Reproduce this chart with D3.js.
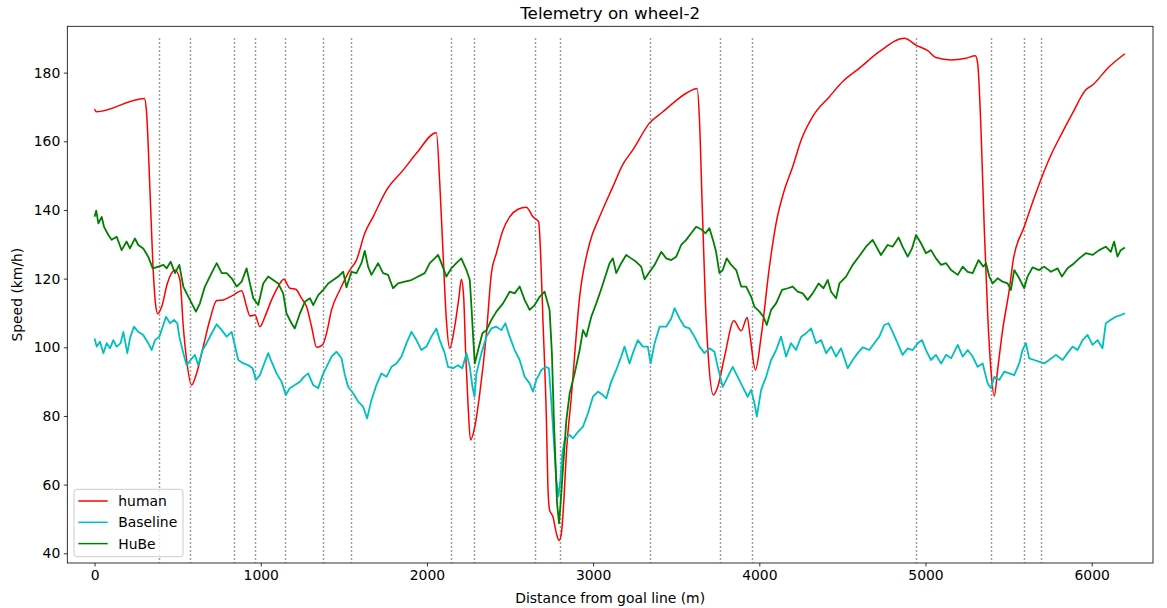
<!DOCTYPE html>
<html><head><meta charset="utf-8">
<script src="https://cdn.jsdelivr.net/npm/d3@7"></script>
<style>body{margin:0;background:#fff}svg{display:block}text{font-family:"DejaVu Sans",sans-serif;fill:#000}</style>
</head><body><div id="chart"></div>
<script>
const xTicks = [0,1000,2000,3000,4000,5000,6000];
const yTicks = [40,60,80,100,120,140,160,180];
const seriesNames = ["human","Baseline","HuBe"];
const seriesColors = ["#ff0000","#00bfbf","#008000"];
const markerDist = [386,574,837,965,1145,1374,1546,2142,2286,2648,2799,3344,3761,3957,4943,5394,5594,5696];

const human = [[0,169.4],[10,168.6],[300,172.5],[312,169],[334,145],[350,125.4],[366,113],[380,109.8],[404,111.8],[438,118.6],[484,122.5],[514,119.6],[534,106],[554,96.3],[584,89],[614,92.4],[654,100.2],[694,108],[735,113.6],[774,113.8],[835,115.2],[885,116.5],[915,111.8],[935,109.1],[965,109.4],[995,106],[1025,108.9],[1065,113.8],[1105,117.7],[1139,119.8],[1175,117.2],[1211,116.9],[1245,114.3],[1276,111.8],[1306,106],[1336,100],[1372,100.7],[1396,104.1],[1426,110.9],[1476,116.7],[1536,122.5],[1576,125.4],[1626,133.2],[1676,138],[1757,145.8],[1857,151.6],[1937,156.5],[2057,162.5],[2077,148],[2097,127.4],[2117,108],[2137,99.7],[2167,106],[2193,114.7],[2207,119.8],[2221,114.7],[2233,98.3],[2247,83.7],[2262,73],[2288,76.9],[2318,86.6],[2358,104.1],[2388,121.6],[2418,127.4],[2458,134.2],[2498,138],[2548,140.2],[2598,140.8],[2638,138],[2672,136.6],[2684,127.4],[2698,108],[2719,78.8],[2728,59.4],[2738,52.6],[2758,50.7],[2779,45.8],[2795,43.7],[2809,45.8],[2823,54.6],[2839,69.1],[2869,85.6],[2919,114.7],[2979,130.3],[3039,138],[3119,146.8],[3179,153.3],[3239,157.5],[3339,165.3],[3420,168.6],[3490,171.5],[3560,174],[3626,175.4],[3640,166.2],[3656,141.9],[3676,112.8],[3696,95.3],[3724,86.1],[3750,88.5],[3791,97.3],[3847,107.7],[3891,104.8],[3927,108.7],[3945,103.1],[3977,93.4],[4011,103.1],[4061,123.5],[4101,136.1],[4151,145.8],[4201,152.6],[4252,160.4],[4321,167.2],[4422,173],[4502,177.4],[4602,181.3],[4722,186.1],[4873,190],[4943,188],[5013,186.4],[5063,184.4],[5154,183.7],[5244,184.2],[5300,184.9],[5314,182.7],[5334,163.3],[5354,134.2],[5374,109.9],[5394,93.4],[5414,85.8],[5434,93.4],[5464,105],[5504,116.7],[5528,125.4],[5594,135.1],[5664,144.9],[5755,156],[5815,161.8],[5885,168.2],[5965,175],[6005,176.4],[6105,181.7],[6200,185.5]];

const baseline = [[0,102.6],[13,100.2],[33,101.6],[53,98.3],[73,101.2],[93,99.7],[113,102.1],[133,100.2],[157,101.2],[173,104.5],[197,98.3],[213,102.6],[237,106],[263,104.5],[293,103.6],[323,101.2],[344,99.2],[364,102.1],[390,103.1],[410,106],[430,108.9],[454,107],[478,108],[498,107],[510,103.1],[534,98.3],[554,94.8],[578,96.3],[604,97.8],[624,94.8],[650,99.2],[674,101.2],[705,104.1],[735,106.7],[765,105],[795,103.1],[825,104.5],[839,101.6],[865,96.3],[895,95.3],[925,94.8],[951,93.9],[971,90.5],[995,91.9],[1025,95.8],[1045,98.3],[1065,95.8],[1095,92.4],[1125,90],[1151,86.1],[1175,88.1],[1205,89],[1236,90],[1260,91.4],[1285,92.4],[1316,89],[1346,88.1],[1372,91.9],[1396,94.3],[1426,97.3],[1456,98.7],[1486,96.8],[1506,92],[1526,88.5],[1556,86.6],[1586,84.2],[1616,82.7],[1640,79.3],[1666,84.6],[1696,89],[1726,92.4],[1757,91.4],[1787,94.3],[1817,95.3],[1847,97.3],[1877,101.2],[1907,104.5],[1937,102.1],[1967,99.2],[1997,100.2],[2027,103.1],[2057,105.5],[2077,102.1],[2107,98.3],[2127,94.3],[2157,93.9],[2187,94.8],[2213,93.9],[2238,98.3],[2258,94.3],[2274,88.5],[2286,85.6],[2298,92.4],[2328,98.3],[2358,103.1],[2388,105.5],[2418,106],[2448,105],[2472,107],[2498,103.1],[2528,99.2],[2558,96.3],[2588,91.4],[2618,89.5],[2638,87.1],[2658,90.5],[2689,93.4],[2714,94.3],[2734,93.9],[2749,83.7],[2762,74],[2779,61.3],[2791,56.5],[2803,61.3],[2815,69.1],[2829,73],[2859,74.5],[2879,73.5],[2909,75.4],[2939,76.9],[2969,80.8],[2999,85.6],[3029,87.1],[3059,86.1],[3079,85.1],[3109,90],[3139,93.4],[3169,97.3],[3189,100.2],[3219,95.3],[3239,98.3],[3269,102.1],[3299,100.2],[3329,100.2],[3346,95.3],[3370,101.2],[3400,106],[3440,106],[3470,108.4],[3490,111.4],[3520,108.4],[3550,106],[3580,105.5],[3610,103.1],[3640,100.2],[3670,98.3],[3700,99.7],[3730,98.7],[3750,94.3],[3780,88.5],[3810,91.4],[3840,94.3],[3870,91.4],[3900,88.5],[3930,85.6],[3951,87.6],[3971,83.7],[3985,79.8],[4011,87.6],[4041,91.4],[4071,96.3],[4101,99.2],[4131,103.1],[4161,97.3],[4191,101.2],[4221,99.2],[4252,103.1],[4282,104.1],[4312,105.5],[4342,101.2],[4372,102.1],[4402,98.3],[4432,100.2],[4462,97.3],[4492,99.7],[4532,93.9],[4562,96.3],[4592,98.3],[4622,100],[4662,99.2],[4692,101.2],[4722,103.1],[4752,106.5],[4778,107],[4802,104.5],[4832,101.2],[4862,97.8],[4893,99.7],[4923,99.2],[4953,101.2],[4979,102.1],[5003,99.2],[5033,96.3],[5063,97.8],[5094,95.3],[5124,97.8],[5154,96.8],[5194,100.7],[5224,97.3],[5254,99.2],[5284,97.3],[5314,94.3],[5344,95.3],[5374,89.5],[5394,88.1],[5414,91.4],[5444,90.5],[5474,92.9],[5504,92.4],[5534,91.9],[5564,95.3],[5584,99.2],[5604,101.2],[5624,96.8],[5654,96.3],[5684,95.8],[5714,95.3],[5744,96.3],[5785,97.8],[5825,96.3],[5855,98.3],[5885,100.2],[5915,99.2],[5945,102.1],[5975,103.6],[6005,100.7],[6035,102.1],[6065,99.7],[6085,107],[6115,108],[6145,108.9],[6175,109.4],[6200,109.9]];

const hube = [[0,138],[10,139.8],[23,136.1],[43,138],[57,135.1],[83,132.7],[103,131.3],[133,132.2],[163,128.3],[193,130.8],[213,128.8],[243,131.7],[263,129.8],[293,128.8],[323,126.4],[350,123],[384,123.5],[414,124],[434,123],[458,124.9],[484,121.6],[510,124],[534,117.7],[574,113.8],[610,110.4],[634,112.8],[664,117.7],[704,121.6],[735,124.5],[765,121.6],[795,121.6],[825,120.1],[855,117.7],[885,119.1],[915,123],[935,118.6],[955,114.3],[985,112.3],[1015,118.6],[1045,120.6],[1075,119.6],[1105,118.6],[1135,115.7],[1155,109.9],[1185,107],[1205,105.5],[1236,109.9],[1266,113.3],[1296,114.3],[1316,112.3],[1346,115.2],[1376,116.7],[1406,118.6],[1436,119.6],[1466,120.6],[1496,122],[1516,117.5],[1546,122],[1576,121.6],[1606,124.5],[1626,128.1],[1646,123.5],[1666,121.1],[1706,124.5],[1736,121.6],[1766,121.1],[1796,117.2],[1826,118.6],[1867,119.1],[1907,119.6],[1947,120.6],[1987,121.6],[2017,124.5],[2047,125.9],[2067,126.9],[2087,124.5],[2117,120.6],[2147,123],[2177,124.5],[2207,125.9],[2238,122.5],[2258,119.6],[2268,111.8],[2278,103.1],[2288,95.3],[2308,99.2],[2334,104.1],[2358,105],[2388,108],[2418,110.4],[2458,112.8],[2498,116.2],[2528,115.7],[2558,117.7],[2588,113.8],[2618,110.9],[2648,112.3],[2678,114.7],[2708,116.2],[2738,110.9],[2752,98.3],[2764,78.8],[2775,64.3],[2783,54.6],[2795,48.7],[2803,53.6],[2818,64.3],[2839,78.8],[2859,86.6],[2889,92.4],[2919,99.2],[2939,105],[2959,103.1],[2989,108.9],[3019,112.8],[3049,117],[3079,121.5],[3099,124.5],[3119,125.9],[3139,121.6],[3169,124.5],[3199,126.9],[3229,125.9],[3259,124.9],[3289,123.5],[3310,119.8],[3340,122],[3370,124],[3410,127.8],[3440,125.9],[3470,125.4],[3500,126.4],[3530,129.8],[3560,131.3],[3590,133.2],[3620,135.1],[3650,134.4],[3676,133.2],[3700,134.7],[3724,130.8],[3740,127.8],[3760,121.6],[3780,122.5],[3804,125.9],[3831,124],[3861,122.5],[3891,117.7],[3921,117.7],[3951,114.7],[3971,111.8],[4001,110.4],[4025,108.9],[4045,106.5],[4071,110.9],[4101,112.8],[4137,116.7],[4171,117.2],[4201,117.7],[4231,116.2],[4261,115.7],[4291,113.8],[4321,115.7],[4357,118.6],[4386,117.2],[4412,119.6],[4432,116.2],[4462,114.3],[4482,118.6],[4522,120.6],[4562,124],[4602,126.6],[4642,129.3],[4682,131.3],[4732,126.9],[4772,129.8],[4802,129.3],[4838,132],[4862,129.3],[4893,126.4],[4919,128.8],[4943,132.7],[4973,130.3],[5003,127.4],[5033,128.3],[5063,125.9],[5094,124],[5124,124.5],[5154,122.5],[5194,121.1],[5224,123.5],[5254,122],[5284,121.6],[5319,125.4],[5348,123.5],[5364,124.5],[5384,120.6],[5404,118.6],[5434,120.1],[5464,119.1],[5494,118.6],[5514,116.7],[5534,122.5],[5564,120.1],[5594,117.2],[5614,120.6],[5644,123.3],[5684,122.5],[5714,123.5],[5755,122],[5795,123],[5821,120.6],[5855,123],[5895,124.5],[5925,125.9],[5965,127.4],[6005,126.9],[6045,128.3],[6085,129.3],[6115,127.8],[6135,130.8],[6155,126.4],[6175,128.3],[6200,129.1]];

const W = 1167, H = 608;
const plot = {left: 67.3, right: 1153, top: 26.3, bottom: 563};
const svg = d3.select("#chart").append("svg").attr("width", W).attr("height", H);
const x = d3.scaleLinear().domain([-164, 6369]).range([plot.left, plot.right]);
const y = d3.scaleLinear().domain([37.17, 193.5]).range([plot.bottom, plot.top]);

// marker lines (snapped to pixel grid like matplotlib)
svg.append("g").selectAll("line").data(markerDist).join("line")
  .attr("x1", d => Math.round(x(d)) + 0.5).attr("x2", d => Math.round(x(d)) + 0.5)
  .attr("y1", y(190)).attr("y2", plot.bottom)
  .attr("stroke", "#808080").attr("stroke-width", 1.5)
  .attr("stroke-dasharray", "1.5,2.5");

const line = d3.line().x(d => x(d[0])).y(d => y(d[1]));
const lineSmooth = d3.line().x(d => x(d[0])).y(d => y(d[1])).curve(d3.curveMonotoneX);
const g = svg.append("g").attr("fill", "none").attr("stroke-linejoin", "round");
g.append("path").attr("d", lineSmooth(human)).attr("stroke", seriesColors[0]).attr("stroke-width", 1.5);
g.append("path").attr("d", line(baseline)).attr("stroke", seriesColors[1]).attr("stroke-width", 1.8);
g.append("path").attr("d", line(hube)).attr("stroke", seriesColors[2]).attr("stroke-width", 1.8);

// frame
svg.append("rect").attr("x", plot.left).attr("y", plot.top)
  .attr("width", plot.right - plot.left).attr("height", plot.bottom - plot.top)
  .attr("fill", "none").attr("stroke", "#000").attr("stroke-width", 0.8);

const xAxis = svg.append("g").attr("transform", `translate(0,${plot.bottom})`)
  .call(d3.axisBottom(x).tickValues(xTicks).tickFormat(d3.format("d")).tickSize(3.5).tickPadding(3.5));
const yAxis = svg.append("g").attr("transform", `translate(${plot.left},0)`)
  .call(d3.axisLeft(y).tickValues(yTicks).tickFormat(d3.format("d")).tickSize(3.5).tickPadding(3.5));
[xAxis, yAxis].forEach(a => {
  a.select(".domain").remove();
  a.selectAll("line").attr("stroke", "#000").attr("stroke-width", 0.8);
  a.selectAll("text").style("font-family", "DejaVu Sans").style("font-size", "13.9px").attr("fill", "#000");
});

svg.append("text").attr("x", (plot.left + plot.right) / 2).attr("y", 18.5)
  .attr("text-anchor", "middle").style("font-size", "16.7px").text("Telemetry on wheel-2");
svg.append("text").attr("x", (plot.left + plot.right) / 2).attr("y", 603)
  .attr("text-anchor", "middle").style("font-size", "13.9px").text("Distance from goal line (m)");
svg.append("text").attr("transform", `translate(22,${(plot.top + plot.bottom) / 2}) rotate(-90)`)
  .attr("text-anchor", "middle").style("font-size", "13.9px").text("Speed (km/h)");

// legend
const leg = svg.append("g");
leg.append("rect").attr("x", 74).attr("y", 489.3).attr("width", 109).attr("height", 67.4)
  .attr("rx", 2.8).attr("fill", "#fff").attr("fill-opacity", 0.8)
  .attr("stroke", "#cccccc").attr("stroke-width", 1);
seriesNames.forEach((n, i) => {
  const yy = 501 + i * 21.3;
  leg.append("line").attr("x1", 78.3).attr("x2", 107.7).attr("y1", yy).attr("y2", yy)
    .attr("stroke", seriesColors[i]).attr("stroke-width", 1.5);
  leg.append("text").attr("x", 118.3).attr("y", yy + 5).style("font-size", "13.9px").text(n);
});
</script></body></html>
